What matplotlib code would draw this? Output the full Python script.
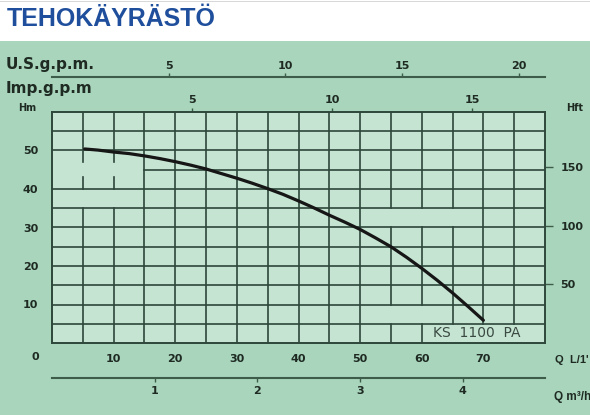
import matplotlib
matplotlib.use('Agg')
import matplotlib.pyplot as plt
from matplotlib.patches import Rectangle

# pump curve KS 1100 PA : flow in L/min, head in m
flow_lpm = [5.3, 7.5, 10, 12.5, 15, 17.5, 20, 22.5, 25, 27.5, 30, 32.5, 35, 37.5,
            40, 42.5, 45, 47.5, 50, 52.5, 55, 57.5, 60, 62.5, 65, 67.5, 70]
head_m = [50.4, 50.1, 49.6, 49.2, 48.6, 47.9, 47.1, 46.2, 45.2, 44.0, 42.8, 41.5, 40.1, 38.6,
          36.9, 35.1, 33.2, 31.4, 29.5, 27.3, 25.0, 22.3, 19.4, 16.3, 13.0, 9.5, 5.9]

lpm_ticks = [10, 20, 30, 40, 50, 60, 70]
hm_ticks = [10, 20, 30, 40, 50]
hft_ticks = [50, 100, 150]
m3h_ticks = [1, 2, 3, 4]
usgpm_ticks = [5, 10, 15, 20]
impgpm_ticks = [5, 10, 15]

# grid lines every 5 units, with the blank spots of the original sheet
grid_x = [5, 10, 15, 20, 25, 30, 35, 40, 45, 50, 55, 60, 65, 70, 75]
grid_y = [5, 10, 15, 20, 25, 30, 35, 40, 45, 50, 55]
gaps_x = {5: [(35, 40), (43, 47)], 10: [(35, 40), (43, 47)],
          55: [(30, 35), (5, 10)], 60: [(30, 35), (5, 10)],
          65: [(30, 35), (0, 5)], 70: [(0, 5)], 75: [(0, 5)]}
gaps_y = {45: [(0, 15)]}

W, H = 590, 415
panel = '#a8d5bc'
plot_bg = '#c6e4d2'
line_col = '#2d473a'
axis_col = '#3d5c4a'
txt = '#1e2a22'


def fx(px):
    return px / W


def fy(py):
    return 1 - py / H


def segments(lo, hi, gaps):
    cuts = sorted(gaps)
    out = []
    start = lo
    for a, b in cuts:
        if a > start:
            out.append((start, a))
        start = max(start, b)
    if start < hi:
        out.append((start, hi))
    return out


fig = plt.figure(figsize=(W / 100, H / 100), dpi=100)
fig.patch.set_facecolor('white')
fig.patches.append(Rectangle((0, 0), 1, fy(41), transform=fig.transFigure,
                             facecolor=panel, edgecolor='none', zorder=-5))
fig.patches.append(Rectangle((0, fy(2)), 1, 0.002, transform=fig.transFigure,
                             facecolor='#d8d8d8', edgecolor='none', zorder=-5))

ax = fig.add_axes([fx(52), fy(343), fx(493), 231 / H])
ax.set_facecolor(plot_bg)
ax.set_xlim(0, 80)
ax.set_ylim(0, 60)

for gx in grid_x:
    for a, b in segments(0, 60, gaps_x.get(gx, [])):
        ax.plot([gx, gx], [a, b], color=line_col, lw=1.2, zorder=1)
for gy in grid_y:
    for a, b in segments(0, 80, gaps_y.get(gy, [])):
        ax.plot([a, b], [gy, gy], color=line_col, lw=1.2, zorder=1)

ax.plot(flow_lpm, head_m, color='#161616', lw=2.3, zorder=3, solid_capstyle='round')
ax.text(69, 2.5, 'KS  1100  PA', fontsize=10, color='#3a4a42',
        ha='center', va='center', zorder=4)

for s in ax.spines.values():
    s.set_color(line_col)
    s.set_linewidth(1.4)

ax.set_xticks(lpm_ticks)
ax.set_yticks(hm_ticks)
ax.tick_params(axis='x', length=0, pad=8, labelsize=8, labelcolor=txt)
ax.tick_params(axis='y', length=0, pad=10, labelsize=8, labelcolor=txt)
for lab in ax.get_xticklabels() + ax.get_yticklabels():
    lab.set_fontweight('bold')

# head in feet, right side
hft = ax.secondary_yaxis('right', functions=(lambda m: m * 3.2808, lambda f: f / 3.2808))
hft.set_yticks(hft_ticks)
hft.tick_params(length=6, width=1, color=axis_col, pad=5, labelsize=8, labelcolor=txt)
hft.spines['right'].set_visible(False)

# imperial gpm, top of plot
imp = ax.secondary_xaxis('top', functions=(lambda q: q / 4.54609, lambda g: g * 4.54609))
imp.set_xticks(impgpm_ticks)
imp.tick_params(length=3, width=1, color=axis_col, pad=2, labelsize=8, labelcolor=txt)
imp.spines['top'].set_visible(False)

# US gpm, separate line above
usg = ax.secondary_xaxis(1.1515, functions=(lambda q: q / 3.78541, lambda g: g * 3.78541))
usg.set_xticks(usgpm_ticks)
usg.tick_params(length=3, width=1, color=axis_col, pad=1, labelsize=8, labelcolor=txt)
usg.spines['top'].set_color(axis_col)
usg.spines['top'].set_linewidth(1.5)

# m3/h, separate line below
m3h = ax.secondary_xaxis(-0.1515, functions=(lambda q: q * 0.06, lambda v: v / 0.06))
m3h.set_xticks(m3h_ticks)
m3h.tick_params(length=3, width=1, color=axis_col, pad=3, labelsize=8, labelcolor=txt)
m3h.spines['bottom'].set_color(axis_col)
m3h.spines['bottom'].set_linewidth(1.5)

for sec in (hft, imp, usg, m3h):
    for lab in sec.xaxis.get_ticklabels() + sec.yaxis.get_ticklabels():
        lab.set_fontweight('bold')

fig.text(fx(7), fy(19), 'TEHOKÄYRÄSTÖ', fontsize=18, fontweight='bold',
         family='Liberation Sans', color='#1f4f9c', va='center')
fig.text(fx(6), fy(64), 'U.S.g.p.m.', fontsize=11, fontweight='bold', color=txt, va='center')
fig.text(fx(6), fy(89), 'Imp.g.p.m', fontsize=11, fontweight='bold', color=txt, va='center')
fig.text(fx(27), fy(108), 'Hm', fontsize=7, fontweight='bold', color=txt, ha='center', va='center')
fig.text(fx(575), fy(108), 'Hft', fontsize=7, fontweight='bold', color=txt, ha='center', va='center')
fig.text(fx(35), fy(357), '0', fontsize=8, fontweight='bold', color=txt, ha='center', va='center')
fig.text(fx(555), fy(360), "Q  L/1'", fontsize=8, fontweight='bold', family='Liberation Sans',
         color=txt, va='center')
fig.text(fx(554), fy(397), 'Q m³/h', fontsize=8.5, fontweight='bold', family='Liberation Sans',
         color=txt, va='center')

fig.savefig('out.png', dpi=100, facecolor=fig.get_facecolor())
